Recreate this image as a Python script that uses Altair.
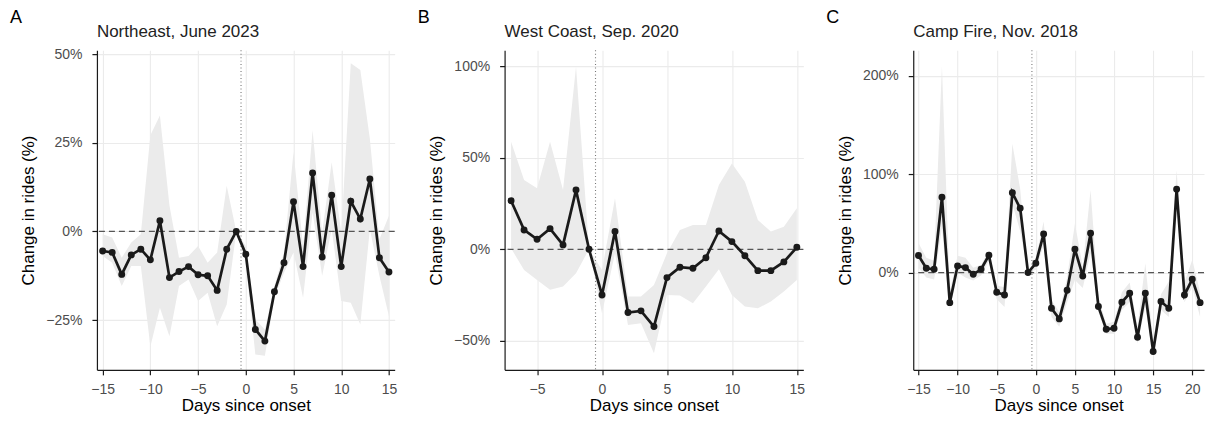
import altair as alt
import pandas as pd

# ---------------- data ----------------
A_days = list(range(-15, 16))
A_est = [-5.5, -5.9, -12.1, -6.6, -5.0, -8.0, 3.0, -13.0, -11.3, -9.9, -12.2, -12.5, -16.6, -5.0, 0.0,
         -6.4, -27.6, -30.9, -17.0, -8.8, 8.4, -9.9, 16.5, -7.2, 10.2, -9.9, 8.5, 3.5, 14.8, -7.4, -11.4]
A_hi = [-0.8, -1.7, -7.4, -3.1, -0.8, 27.1, 32.7, 7.3, -7.4, -6.9, -4.1, -8.8, -5.9, 12.9, 0.0,
        -4.1, -24.8, -27.6, -15.4, -5.9, 22.4, -4.1, 28.5, -0.3, 19.5, -0.3, 47.4, 45.5, 26.1, -2.2, 4.4]
A_lo = [-6.9, -8.8, -15.4, -9.7, -9.7, -32.4, -21.5, -29.5, -15.4, -13.5, -19.6, -17.3, -26.7, -20.6, 0.0,
        -8.8, -34.7, -35.0, -18.7, -11.6, -5.9, -18.7, 5.4, -12.5, 0.7, -19.6, -20.1, -26.2, 0.7, -12.5, -23.9]

B_days = list(range(-7, 16))
B_est = [26.6, 10.6, 5.5, 11.3, 2.4, 32.4, 0.0, -25.0, 9.8, -34.6, -33.7, -42.3, -15.5, -9.8, -10.4,
         -4.6, 10.0, 4.2, -3.5, -11.7, -11.7, -6.9, 1.1]
B_hi = [58.9, 37.9, 33.4, 58.9, 32.4, 99.9, 0.0, -11.3, 27.9, -25.9, -25.9, -19.5, -2.2, 10.6, 13.3,
        13.3, 35.2, 47.0, 37.0, 16.0, 9.7, 12.4, 22.4]
B_lo = [0.5, -11.3, -16.8, -22.2, -20.4, -13.1, 0.0, -35.0, -2.2, -41.4, -40.5, -56.9, -25.0, -25.3, -29.5,
        -20.4, -10.9, -25.0, -31.3, -32.3, -28.6, -23.1, -16.8]

C_days = list(range(-15, 22))
C_est = [17.3, 4.4, 3.4, 76.5, -30.5, 6.8, 5.1, -1.7, 3.4, 17.6, -20.0, -22.7, 81.2, 65.3, 0.0,
         9.5, 39.3, -36.2, -47.0, -17.9, 23.7, -3.4, 39.9, -34.5, -57.5, -56.5, -30.1, -21.0, -65.7,
         -21.0, -80.2, -29.4, -36.2, 84.6, -22.7, -6.8, -30.5]
C_hi = [30, 15, 12, 210, -20, 17, 15, 5, 8, 22, -13, -15, 131, 85, 0,
        15, 52, -28, -40, -5, 50, 6, 84, -25, -52, -50, -20, -10, -55,
        9.5, -70, -22, -9, 104, -10, 13, -20]
C_lo = [5, -5, -7, 45, -38, 0, -5, -8, -3, 12, -27, -35, 70, 42, 0,
        3, 28, -45, -55, -30, -7.5, -15.6, 20, -40, -62, -62, -38, -30, -72,
        -35, -85, -38, -45, 65, -30, -15, -45]

A_xticks = [-15, -10, -5, 0, 5, 10, 15]
B_xticks = [-5, 0, 5, 10, 15]
C_xticks = [-15, -10, -5, 0, 5, 10, 15, 20]
A_yticks = [-25, 0, 25, 50]
B_yticks = [-50, 0, 50, 100]
C_yticks = [0, 100, 200]

FONT = "Liberation Sans"
INK = "#1a1a1a"


def panel(days, est, lo, hi, xdom, ydom, xticks, yticks, width, letter, title):
    df = pd.DataFrame({"day": days, "est": est, "lo": lo, "hi": hi})
    one = pd.DataFrame({"letter": [letter], "title": [title]})
    xsc = alt.Scale(domain=xdom, nice=False, zero=False)
    ysc = alt.Scale(domain=ydom, nice=False, zero=False)
    xax = alt.Axis(values=xticks, format="d", title="Days since onset", labelPadding=8,
                   titlePadding=1, labelFlush=False, labelOverlap=False)
    yax = alt.Axis(values=yticks, labelExpr="format(datum.value/100, '.0%')",
                   title="Change in rides (%)", labelPadding=10, minExtent=50, maxExtent=50,
                   titlePadding=9, labelFlush=False, labelOverlap=False)
    x = alt.X("day:Q", scale=xsc, axis=xax)
    base = alt.Chart(df)
    ribbon = base.mark_area(color="#EBEBEB", opacity=1).encode(
        x=x, y=alt.Y("lo:Q", scale=ysc, axis=yax), y2="hi:Q")
    zero = alt.Chart(one).mark_rule(color="#555555", strokeWidth=1.2, strokeDash=[6, 4]).encode(
        y=alt.datum(0))
    onset = alt.Chart(one).mark_rule(color="#777777", strokeWidth=1.1, strokeDash=[1, 2.5]).encode(
        x=alt.datum(-0.5))
    line = base.mark_line(color=INK, strokeWidth=2.7).encode(
        x=x, y=alt.Y("est:Q", scale=ysc, axis=yax))
    pts = base.mark_circle(color=INK, opacity=1, size=48).encode(
        x=x, y=alt.Y("est:Q", scale=ysc, axis=yax))
    let = alt.Chart(one).mark_text(align="left", baseline="alphabetic", font=FONT, fontSize=18,
                                   color="#000000").encode(
        text="letter:N", x=alt.value(-87), y=alt.value(-27.6))
    ttl = alt.Chart(one).mark_text(align="left", baseline="alphabetic", font=FONT, fontSize=17,
                                   color="#222222").encode(
        text="title:N", x=alt.value(0), y=alt.value(-13.3))
    return alt.layer(ribbon, zero, onset, line, pts, let, ttl).properties(width=width, height=320)


pA = panel(A_days, A_est, A_lo, A_hi, [-15.6, 15.6], [-39.0, 51.1], A_xticks, A_yticks, 298,
           "A", "Northeast, June 2023")
pB = panel(B_days, B_est, B_lo, B_hi, [-7.5, 15.5], [-66.0, 109.0], B_xticks, B_yticks, 299,
           "B", "West Coast, Sep. 2020")
pC = panel(C_days, C_est, C_lo, C_hi, [-15.67, 21.5], [-98.8, 226.0], C_xticks, C_yticks, 291,
           "C", "Camp Fire, Nov. 2018")

chart = alt.hconcat(pA, pB, pC, spacing=110, bounds="flush").properties(
    padding={"left": 2, "top": 0, "right": 0, "bottom": 0}
).configure_view(stroke=None).configure_axis(
    domainColor=INK, domainWidth=1.2, tickColor=INK, tickWidth=1.2, tickSize=5,
    labelFont=FONT, labelFontSize=14, labelColor="#4D4D4D",
    titleFont=FONT, titleFontSize=17, titleFontWeight="normal", titleColor="#000000",
    gridColor="#EBEBEB", gridWidth=1.1,
)

chart.save("out.html", embed_options={"renderer": "svg", "actions": False})
